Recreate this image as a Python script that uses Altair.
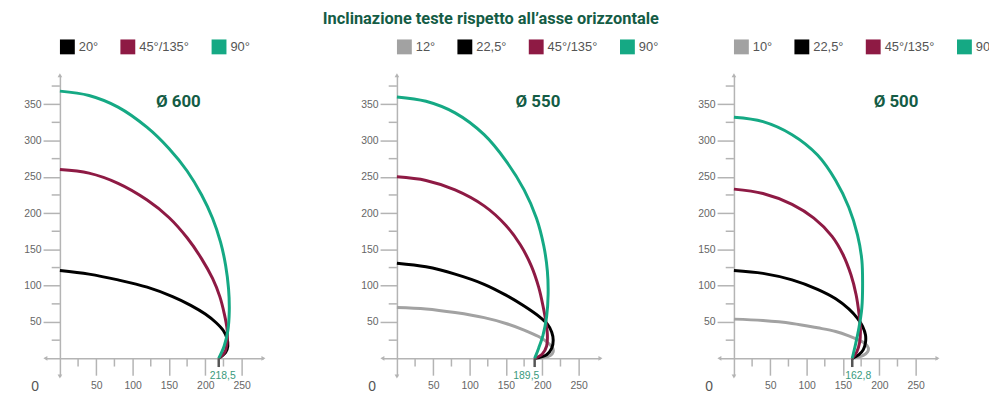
import altair as alt
import pandas as pd

TITLE = "Inclinazione teste rispetto all’asse orizzontale"

# ---------------- data ----------------
# Ø 600
p600_names = ["20°", "45°/135°", "90°"]
p600_20_x = [0, 40, 80, 120, 155, 180, 200, 215, 225, 230, 231, 228, 218.5]
p600_20_y = [121, 116, 108, 98, 85, 73, 61, 49, 38, 27, 17, 8, 0]
p600_45_x = [0, 40, 80, 120, 150, 175, 195, 210, 220, 226, 230, 230, 227, 218.5]
p600_45_y = [260, 255, 241, 218, 194, 166, 137, 110, 85, 62, 40, 22, 9, 0]
p600_90_x = [0, 40, 80, 120, 150, 175, 195, 210, 221, 228, 232, 233, 231, 226, 218.5]
p600_90_y = [368, 362, 346, 318, 289, 258, 225, 193, 160, 128, 96, 65, 38, 17, 0]

# Ø 550
p550_names = ["12°", "22,5°", "45°/135°", "90°"]
p550_12_x = [0, 40, 80, 120, 150, 175, 195, 207, 214, 215, 211, 202, 189.5]
p550_12_y = [70, 68, 63, 56, 48, 39, 30, 22, 15, 9, 4, 1, 0]
p550_22_x = [0, 40, 80, 120, 150, 175, 195, 207, 213, 215, 213, 206, 189.5]
p550_22_y = [131, 126, 116, 102, 87, 72, 58, 47, 36, 25, 14, 5, 0]
p550_45_x = [0, 40, 80, 120, 150, 170, 185, 195, 201, 205, 207, 206, 200, 189.5]
p550_45_y = [250, 245, 232, 210, 183, 156, 127, 98, 72, 50, 32, 17, 6, 0]
p550_90_x = [0, 40, 80, 120, 150, 175, 192, 202, 207, 208, 206, 201, 195, 189.5]
p550_90_y = [360, 354, 338, 308, 272, 232, 193, 155, 120, 88, 58, 32, 14, 0]

# Ø 500
p500_names = ["10°", "22,5°", "45°/135°", "90°"]
p500_10_x = [0, 40, 80, 115, 140, 158, 172, 181, 185, 184, 178, 162.8]
p500_10_y = [54, 52, 48, 42, 37, 31, 25, 20, 14, 9, 4, 0]
p500_22_x = [0, 40, 80, 115, 140, 158, 170, 177, 181, 181, 178, 172, 162.8]
p500_22_y = [121, 117, 108, 95, 82, 68, 55, 44, 32, 22, 12, 5, 0]
p500_45_x = [0, 40, 80, 110, 135, 150, 161, 168, 172, 174, 173, 169, 162.8]
p500_45_y = [233, 227, 212, 193, 168, 143, 115, 88, 62, 40, 22, 9, 0]
p500_90_x = [0, 40, 80, 115, 140, 158, 170, 176, 177, 176, 172, 167, 162.8]
p500_90_y = [332, 326, 308, 280, 245, 208, 170, 135, 100, 70, 42, 18, 0]

diam_labels = ["Ø 600", "Ø 550", "Ø 500"]
base_values = [218.5, 189.5, 162.8]
base_texts = ["218,5", "189,5", "162,8"]

x_major = [50, 100, 150, 200, 250]
x_minor = [25, 75, 125, 175, 225]
y_major = [50, 100, 150, 200, 250, 300, 350]
y_minor = [25, 75, 125, 175, 225, 275, 325, 375]

# ---------------- style ----------------
C_GRAY, C_BLACK, C_MAG, C_GREEN = "#a2a2a2", "#000000", "#8e1a44", "#15a984"
DARK_GREEN = "#145c45"
AXIS_C = "#b4b4b4"
LABEL_C = "#666666"
FONT = "Liberation Sans"
HEAD_FONT = "Roboto"

XDOM = [-20, 280]
YDOM = [-25, 390]
W, H = 220, 304

panels = [
    dict(names=p600_names, colors=[C_BLACK, C_MAG, C_GREEN],
         series=[(p600_20_x, p600_20_y), (p600_45_x, p600_45_y), (p600_90_x, p600_90_y)],
         diam=diam_labels[0], base=base_values[0], btxt=base_texts[0],
         hx=163, bx=224),
    dict(names=p550_names, colors=[C_GRAY, C_BLACK, C_MAG, C_GREEN],
         series=[(p550_12_x, p550_12_y), (p550_22_x, p550_22_y), (p550_45_x, p550_45_y), (p550_90_x, p550_90_y)],
         diam=diam_labels[1], base=base_values[1], btxt=base_texts[1],
         hx=194, bx=178),
    dict(names=p500_names, colors=[C_GRAY, C_BLACK, C_MAG, C_GREEN],
         series=[(p500_10_x, p500_10_y), (p500_22_x, p500_22_y), (p500_45_x, p500_45_y), (p500_90_x, p500_90_y)],
         diam=diam_labels[2], base=base_values[2], btxt=base_texts[2],
         hx=223, bx=171),
]


def build(p):
    rows = []
    for name, (xs, ys) in zip(p["names"], p["series"]):
        for i, (xv, yv) in enumerate(zip(xs, ys)):
            rows.append({"s": name, "i": i, "x": xv, "y": yv})
    df = pd.DataFrame(rows)

    xs = alt.Scale(domain=XDOM, nice=False, zero=False)
    ys = alt.Scale(domain=YDOM, nice=False, zero=False)
    xaxis = alt.Axis(values=x_major, tickSize=17, labelPadding=5, offset=-18.3,
                     domainColor=AXIS_C, tickColor=AXIS_C, domainWidth=1.5, tickWidth=1.5,
                     labelColor=LABEL_C, labelFontSize=10.5, labelFont=FONT,
                     title=None, grid=False)
    yaxis = alt.Axis(values=y_major, tickSize=17, labelPadding=2, offset=-14.67,
                     domainColor=AXIS_C, tickColor=AXIS_C, domainWidth=1.5, tickWidth=1.5,
                     labelColor=LABEL_C, labelFontSize=10.5, labelFont=FONT,
                     title=None, grid=False)
    X = lambda f="x": alt.X(f + ":Q", scale=xs, axis=xaxis)
    Y = lambda f="y": alt.Y(f + ":Q", scale=ys, axis=yaxis)

    lines = alt.Chart(df).mark_line(strokeWidth=3, interpolate="catmull-rom").encode(
        x=X(), y=Y(),
        color=alt.Color("s:N", sort=p["names"],
                        scale=alt.Scale(domain=p["names"], range=p["colors"]),
                        legend=alt.Legend(orient="none", legendX=14.7, legendY=-36,
                                          direction="horizontal", title=None,
                                          symbolType="square", symbolSize=49,
                                          symbolStrokeWidth=8, labelFontSize=13,
                                          labelColor="#555555", labelFont=FONT,
                                          labelOffset=4, columnPadding=10)),
        order="i:Q",
    )

    xm = pd.DataFrame({"x": x_minor})
    xminor = alt.Chart(xm).mark_rule(color=AXIS_C, strokeWidth=1.5).encode(
        x=X(), y=alt.datum(0, scale=ys), y2=alt.datum(-11.3))
    ym = pd.DataFrame({"y": y_minor})
    yminor = alt.Chart(ym).mark_rule(color=AXIS_C, strokeWidth=1.5).encode(
        y=Y(), x=alt.datum(0, scale=xs), x2=alt.datum(-11.3))

    arrows = pd.DataFrame({"x": [0, 0, XDOM[0], XDOM[1]], "y": [YDOM[1], YDOM[0], 0, 0],
                           "shape": ["triangle-up", "triangle-down", "triangle-left", "triangle-right"]})
    arr = alt.Chart(arrows).mark_point(filled=True, size=22, color=AXIS_C, opacity=1).encode(
        x=X(), y=Y(), shape=alt.Shape("shape:N", scale=None))

    bdf = pd.DataFrame({"x": [p["base"]], "y": [0]})
    bmark = alt.Chart(bdf).mark_rule(color="#555555", strokeWidth=2.5).encode(
        x=X(), y=Y(), y2=alt.datum(-12))

    bl = pd.DataFrame({"x": [p["bx"]], "y": [-24.5], "t": [p["btxt"]]})
    btext = alt.Chart(bl).mark_text(color="#3a9a7c", fontSize=10.5, font=FONT, baseline="middle").encode(
        x=X(), y=Y(), text="t:N")

    hd = pd.DataFrame({"x": [p["hx"]], "y": [353], "t": [p["diam"]]})
    htext = alt.Chart(hd).mark_text(color=DARK_GREEN, fontSize=17, font=HEAD_FONT,
                                    fontWeight="bold", baseline="middle").encode(
        x=X(), y=Y(), text="t:N")

    zd = pd.DataFrame({"x": [-34], "y": [-40], "t": ["0"]})
    ztext = alt.Chart(zd).mark_text(color="#555555", fontSize=14, font=FONT, baseline="middle").encode(
        x=X(), y=Y(), text="t:N")

    return alt.layer(xminor, yminor, arr, lines, bmark, btext, htext, ztext).properties(width=W, height=H)


chart = alt.hconcat(*[build(p) for p in panels], spacing=120, bounds="flush").resolve_scale(
    color="independent", x="independent", y="independent"
).resolve_legend(color="independent").properties(
    title=alt.TitleParams(TITLE, fontSize=16.5, font=HEAD_FONT, fontWeight="bold",
                          color=DARK_GREEN, anchor="middle", offset=12, dx=-19),
    padding={"left": 15.7, "top": 1, "right": -7, "bottom": 5},
).configure_view(stroke=None)

chart.save("out.html", embed_options={"renderer": "svg", "actions": False})
